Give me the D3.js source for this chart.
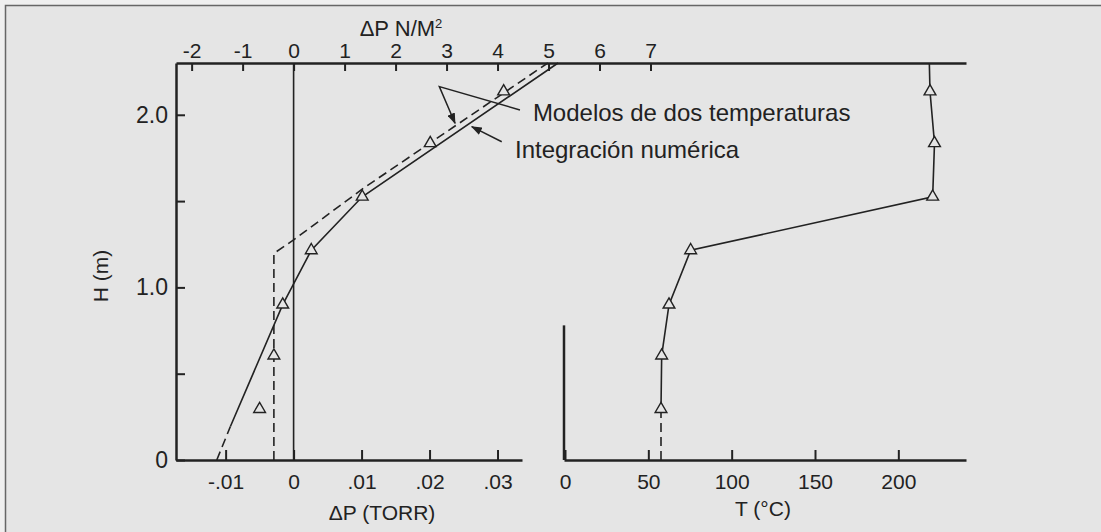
<!DOCTYPE html>
<html>
<head>
<meta charset="utf-8">
<script src="https://cdn.jsdelivr.net/npm/d3@7"></script>
<style>
body { margin: 0; background: #efefef; }
svg text { font-family: "Liberation Sans", Arial, sans-serif; fill: #222; }
</style>
</head>
<body>
<div id="chart"></div>
<script>
var width = 1101;
var height = 532;

// measured points (triangles)
var measHeight = [0.295, 0.605, 0.90, 1.215, 1.525, 1.835, 2.135];
var measDeltaP = [-0.0050, -0.0029, -0.0016, 0.0026, 0.0101, 0.0201, 0.0309];
var measTemp = [57.6, 58.0, 62.4, 75.4, 220.6, 221.7, 219.0];

// integracion numerica (solid) + extrapolated bit at the bottom (dashed)
var numHeight = [0.194, 0.90, 1.215, 1.525, 2.30];
var numDeltaP = [-0.0093, -0.0016, 0.0026, 0.0101, 0.0389];
var numExtHeight = [0, 0.194];
var numExtDeltaP = [-0.0113, -0.0093];

// modelos de dos temperaturas (dashed)
var twoHeight = [0, 1.197, 1.275, 1.575, 2.30];
var twoDeltaP = [-0.0029, -0.0029, 0.0, 0.0103, 0.0374];

// temperature profile
var tempLineHeight = [0.295, 0.605, 0.90, 1.215, 1.525, 1.835, 2.135, 2.30];
var tempLineTemp = [57.6, 58.0, 62.4, 75.4, 220.6, 221.7, 219.0, 218.6];
var tempExtHeight = [0, 0.295];
var tempExtTemp = [57.6, 57.6];

// ticks
var torrTicks = [-0.01, 0, 0.01, 0.02, 0.03];
var paTicks = [-2, -1, 0, 1, 2, 3, 4, 5, 6, 7];
var tempTicks = [0, 50, 100, 150, 200];
var heightTicks = [0, 0.5, 1, 1.5, 2];

// annotation anchors, in (torr, H)
var modelosLeader = [[0.0333, 2.028], [0.02144, 2.163], [0.02375, 1.951]];
var integLeader = [[0.03062, 1.844], [0.02621, 1.931]];

var paPerTorr = 133.322;
var ink = "#222";

var svg = d3.select("#chart")
    .append("svg")
    .attr("width", width)
    .attr("height", height);

// frame (right and bottom edges fall outside the picture)
svg.append("rect")
    .attr("x", 5.5)
    .attr("y", 5.5)
    .attr("width", 1200)
    .attr("height", 600)
    .style("fill", "#e5e5e5")
    .style("stroke", "#666")
    .style("stroke-width", 1.5);

var y = d3.scaleLinear().domain([0, 2.3]).range([460, 63]);
var xTorr = d3.scaleLinear().domain([-0.0173, 0.0336]).range([176, 522]);
var xPa = d3.scaleLinear()
    .domain([xTorr.invert(176) * paPerTorr, xTorr.invert(966) * paPerTorr])
    .range([176, 966]);
var xTemp = d3.scaleLinear().domain([-0.6, 240.6]).range([564, 966]);

function styleAxis(g, size) {
    g.attr("font-size", size);
    g.select(".domain").style("stroke", ink).style("stroke-width", 2.5);
    g.selectAll(".tick line").style("stroke", ink).style("stroke-width", 2);
}

// plain hyphen minus, like the original print
function torrFormat(v) {
    if (v === 0) return "0";
    return String(v).replace("0.", ".");
}
function intFormat(v) { return String(v); }

// left axis H
svg.append("g")
    .attr("transform", "translate(176,0)")
    .call(d3.axisLeft(y)
        .tickValues(heightTicks)
        .tickSizeInner(-9)
        .tickSizeOuter(0)
        .tickPadding(8)
        .tickFormat(function(v) { return v === 0 ? "0" : (v % 1 === 0 ? v.toFixed(1) : ""); }))
    .call(styleAxis, 23);

// top axis N/m2
svg.append("g")
    .attr("transform", "translate(0,63)")
    .call(d3.axisTop(xPa)
        .tickValues(paTicks)
        .tickSizeInner(-8)
        .tickSizeOuter(0)
        .tickPadding(5)
        .tickFormat(intFormat))
    .call(styleAxis, 21);

// bottom axis torr
svg.append("g")
    .attr("transform", "translate(0,460)")
    .call(d3.axisBottom(xTorr)
        .tickValues(torrTicks)
        .tickSizeInner(-10)
        .tickSizeOuter(0)
        .tickPadding(14)
        .tickFormat(torrFormat))
    .call(styleAxis, 21);

// bottom axis temperature
svg.append("g")
    .attr("transform", "translate(0,460)")
    .call(d3.axisBottom(xTemp)
        .tickValues(tempTicks)
        .tickSizeInner(-10)
        .tickSizeOuter(0)
        .tickPadding(14)
        .tickFormat(intFormat))
    .call(styleAxis, 21);

// short left edge of the temperature panel
svg.append("line")
    .attr("x1", xTemp(-0.6)).attr("x2", xTemp(-0.6))
    .attr("y1", y(0)).attr("y2", y(0.78))
    .style("stroke", ink).style("stroke-width", 2.5);

// zero line of delta P
svg.append("line")
    .attr("x1", xTorr(0)).attr("x2", xTorr(0))
    .attr("y1", y(0)).attr("y2", y(2.3))
    .style("stroke", ink).style("stroke-width", 1.6);

function pairs(xs, ys) {
    return xs.map(function(v, i) { return [v, ys[i]]; });
}

var lineP = d3.line()
    .x(function(d) { return xTorr(d[0]); })
    .y(function(d) { return y(d[1]); });
var lineT = d3.line()
    .x(function(d) { return xTemp(d[0]); })
    .y(function(d) { return y(d[1]); });

function drawPath(gen, data, dashed) {
    svg.append("path")
        .datum(data)
        .attr("d", gen)
        .style("fill", "none")
        .style("stroke", ink)
        .style("stroke-width", 1.6)
        .style("stroke-dasharray", dashed ? "9,5" : null);
}

drawPath(lineP, pairs(twoDeltaP, twoHeight), true);
drawPath(lineP, pairs(numExtDeltaP, numExtHeight), true);
drawPath(lineP, pairs(numDeltaP, numHeight), false);
drawPath(lineT, pairs(tempExtTemp, tempExtHeight), true);
drawPath(lineT, pairs(tempLineTemp, tempLineHeight), false);

var tri = d3.symbol().type(d3.symbolTriangle).size(60);

svg.selectAll(".triP")
    .data(pairs(measDeltaP, measHeight))
    .enter().append("path")
    .attr("class", "triP")
    .attr("d", tri)
    .attr("transform", function(d) { return "translate(" + xTorr(d[0]) + "," + y(d[1]) + ")"; })
    .style("fill", "#e5e5e5")
    .style("stroke", ink)
    .style("stroke-width", 1.4);

svg.selectAll(".triT")
    .data(pairs(measTemp, measHeight))
    .enter().append("path")
    .attr("class", "triT")
    .attr("d", tri)
    .attr("transform", function(d) { return "translate(" + xTemp(d[0]) + "," + y(d[1]) + ")"; })
    .style("fill", "#e5e5e5")
    .style("stroke", ink)
    .style("stroke-width", 1.4);

// arrows
svg.append("defs").append("marker")
    .attr("id", "arrow")
    .attr("markerUnits", "userSpaceOnUse")
    .attr("markerWidth", 11)
    .attr("markerHeight", 8)
    .attr("refX", 10)
    .attr("refY", 4)
    .attr("orient", "auto")
    .append("path")
    .attr("d", "M0,0L11,4L0,8Z")
    .style("fill", ink);

svg.append("path")
    .datum(modelosLeader)
    .attr("d", lineP)
    .attr("marker-end", "url(#arrow)")
    .style("fill", "none")
    .style("stroke", ink)
    .style("stroke-width", 1.5);

svg.append("path")
    .datum(integLeader)
    .attr("d", lineP)
    .attr("marker-end", "url(#arrow)")
    .style("fill", "none")
    .style("stroke", ink)
    .style("stroke-width", 1.5);

svg.append("text")
    .attr("x", xTorr(0.0352))
    .attr("y", y(1.964))
    .style("font-size", "24px")
    .text("Modelos de dos temperaturas");

svg.append("text")
    .attr("x", xTorr(0.03257))
    .attr("y", y(1.75))
    .style("font-size", "24px")
    .text("Integración numérica");

// axis titles
var topTitle = svg.append("text")
    .attr("x", 401)
    .attr("y", 36)
    .attr("text-anchor", "middle")
    .style("font-size", "22px")
    .text("ΔP N/M");
topTitle.append("tspan")
    .attr("dy", -8)
    .style("font-size", "13px")
    .text("2");

svg.append("text")
    .attr("x", 382)
    .attr("y", 520)
    .attr("text-anchor", "middle")
    .style("font-size", "21px")
    .text("ΔP (TORR)");

svg.append("text")
    .attr("x", 763)
    .attr("y", 516)
    .attr("text-anchor", "middle")
    .style("font-size", "21px")
    .text("T (°C)");

svg.append("text")
    .attr("transform", "translate(108,276) rotate(-90)")
    .attr("text-anchor", "middle")
    .style("font-size", "21px")
    .text("H (m)");
</script>
</body>
</html>
